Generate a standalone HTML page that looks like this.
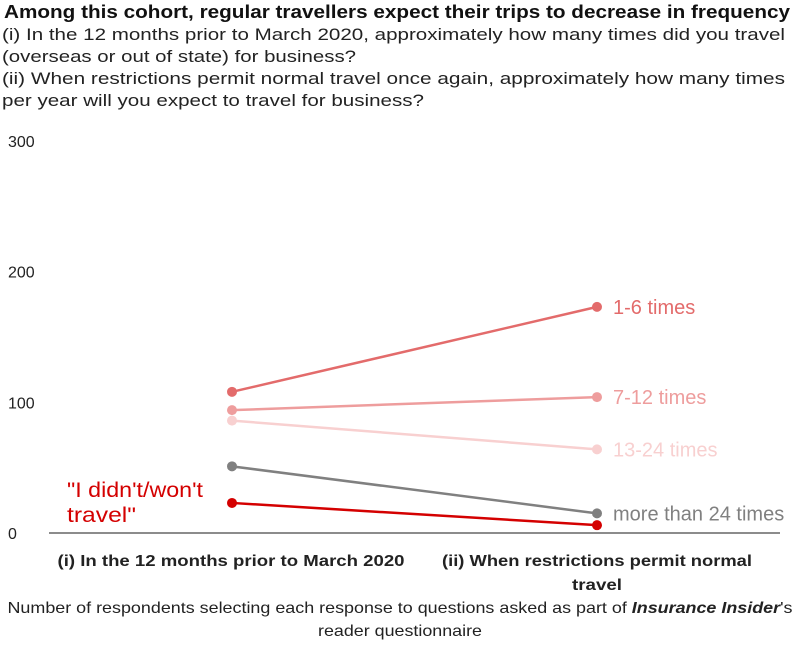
<!DOCTYPE html>
<html><head><meta charset="utf-8"><style>
body{margin:0;background:#fff;}
svg{display:block;font-family:"Liberation Sans",sans-serif;}
</style></head><body>
<svg id="chart" width="800" height="663" viewBox="0 0 800 663">
<text x="4" y="18" font-size="18" font-weight="bold" fill="#111" textLength="786" lengthAdjust="spacingAndGlyphs">Among this cohort, regular travellers expect their trips to decrease in frequency</text>
<g font-size="17" fill="#222">
<text x="2" y="40" textLength="783" lengthAdjust="spacingAndGlyphs">(i) In the 12 months prior to March 2020, approximately how many times did you travel</text>
<text x="2" y="62" textLength="354" lengthAdjust="spacingAndGlyphs">(overseas or out of state) for business?</text>
<text x="2" y="84" textLength="783" lengthAdjust="spacingAndGlyphs">(ii) When restrictions permit normal travel once again, approximately how many times</text>
<text x="2" y="106" textLength="422" lengthAdjust="spacingAndGlyphs">per year will you expect to travel for business?</text>
</g>
<g id="yaxis"></g>
<line x1="49" x2="780" y1="533" y2="533" stroke="#666" stroke-width="1.5"/>
<g id="series"></g>
<g font-size="16" font-weight="bold" fill="#222" text-anchor="middle">
<text x="231" y="566" textLength="347" lengthAdjust="spacingAndGlyphs">(i) In the 12 months prior to March 2020</text>
<text x="597" y="566" textLength="310" lengthAdjust="spacingAndGlyphs">(ii) When restrictions permit normal</text>
<text x="597" y="590" textLength="50" lengthAdjust="spacingAndGlyphs">travel</text>
</g>
<g font-size="16" fill="#222" text-anchor="middle">
<text x="400" y="613" textLength="785" lengthAdjust="spacingAndGlyphs">Number of respondents selecting each response to questions asked as part of <tspan font-weight="bold" font-style="italic">Insurance Insider</tspan>'s</text>
<text x="400" y="636" textLength="164" lengthAdjust="spacingAndGlyphs">reader questionnaire</text>
</g>
<g font-size="21" fill="#d40000">
<text x="67" y="497" textLength="136" lengthAdjust="spacingAndGlyphs">"I didn't/won't</text>
<text x="67" y="522" textLength="69" lengthAdjust="spacingAndGlyphs">travel"</text>
</g>
</svg>
<script>
const yTicks=[0,100,200,300];
const seriesNames=["1-6 times","7-12 times","13-24 times","more than 24 times","I didn't/won't travel"];
const beforeValues=[108,94,86,51,23];
const afterValues=[173,104,64,15,6];
const colors=["#e36b6b","#ee9d9d","#f8d0d0","#808080","#d40000"];
const NS="http://www.w3.org/2000/svg";
const y=v=>533-v*1.307;
const xBefore=232,xAfter=597;
const ya=document.getElementById('yaxis');
yTicks.forEach(t=>{
 const e=document.createElementNS(NS,'text');
 
 
 e.setAttribute('x',8);e.setAttribute('y',y(t)+6);
 e.setAttribute('font-size','16');e.setAttribute('fill','#222');
 e.textContent=t;ya.appendChild(e);
});
const g=document.getElementById('series');
seriesNames.forEach((n,i)=>{
 const c=colors[i];
 const l=document.createElementNS(NS,'line');
 
 
 l.setAttribute('x1',xBefore);l.setAttribute('x2',xAfter);
 l.setAttribute('y1',y(beforeValues[i]));l.setAttribute('y2',y(afterValues[i]));
 l.setAttribute('stroke',c);l.setAttribute('stroke-width','2.5');
 g.appendChild(l);
 [[xBefore,beforeValues[i]],[xAfter,afterValues[i]]].forEach(p=>{
  const d=document.createElementNS(NS,'circle');
  
  
  d.setAttribute('cx',p[0]);d.setAttribute('cy',y(p[1]));d.setAttribute('r','5');
  d.setAttribute('fill',c);g.appendChild(d);
 });
 if(i<4){
  const t=document.createElementNS(NS,'text');
  
  
  t.setAttribute('x',613);t.setAttribute('y',y(afterValues[i])+7);
  t.setAttribute('font-size','20');t.setAttribute('fill',c);
  t.textContent=n;g.appendChild(t);
 }
});
</script>
</body></html>
